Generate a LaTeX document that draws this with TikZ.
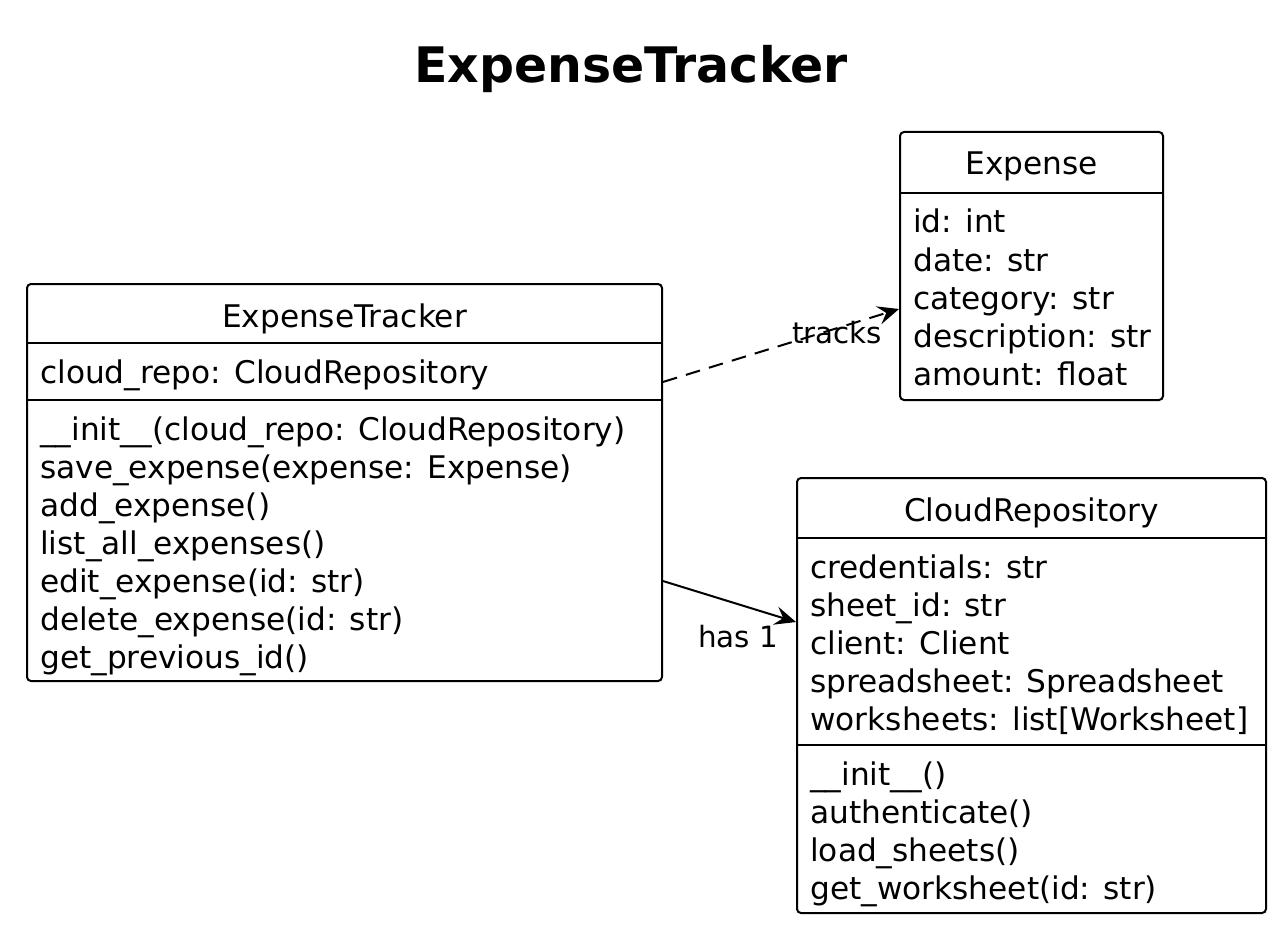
\documentclass[tikz,border=0pt]{standalone}
\usepackage{fontspec}
\setmainfont{DejaVu Sans}
\usetikzlibrary{positioning,calc,arrows.meta}

\tikzset{
  classbox/.style={draw, line width=1.5pt, rounded corners=3pt, inner sep=0pt},
  sepline/.style={line width=1.5pt},
  classname/.style={anchor=base, inner sep=0pt, font=\fontsize{23.4}{28}\selectfont},
  member/.style={anchor=base west, inner sep=0pt, font=\fontsize{23.4}{28}\selectfont},
  rel/.style={line width=1.5pt, -{Stealth[length=16pt,width=14pt,inset=6pt]}},
  rellabel/.style={anchor=base, inner sep=0pt, font=\fontsize{22}{26}\selectfont}
}

\begin{document}
\begin{tikzpicture}[x=0.75pt,y=-0.75pt]
    \useasboundingbox (0,0) rectangle (1280,927);

    \node [anchor=base, font=\fontsize{36.7}{40}\selectfont\bfseries] (title) at (631,83) {ExpenseTracker};

    % class boxes
    \node [classbox, minimum width=476.25pt, minimum height=297.75pt] (tracker) at (344.5,482.5) {};
    \node [classbox, minimum width=197.25pt, minimum height=201pt] (expense) at (1031.5,266) {};
    \node [classbox, minimum width=351.75pt, minimum height=326.25pt] (cloud) at (1031.5,695.5) {};

    \draw [sepline] (27,343) -- (662,343);
    \draw [sepline] (27,400) -- (662,400);
    \draw [sepline] (900,193) -- (1163,193);
    \draw [sepline] (797,538) -- (1266,538);
    \draw [sepline] (797,745) -- (1266,745);

    % ExpenseTracker
    \node [classname] (tracker-name) at (344.5,327) {ExpenseTracker};
    \node [member] (tracker-attr) at (40,383) {cloud\_repo: CloudRepository};
    \foreach \m [count=\i] in {\_\_init\_\_(cloud\_repo: CloudRepository),
        save\_expense(expense: Expense), add\_expense(), list\_all\_expenses(),
        edit\_expense(id: str), delete\_expense(id: str), get\_previous\_id()}
        \node [member] (tracker-m\i) at (40,{402+38*\i}) {\m};

    % Expense
    \node [classname] (expense-name) at (1031.5,175) {Expense};
    \foreach \a [count=\i] in {id: int, date: str, category: str,
        description: str, amount: float}
        \node [member] (expense-a\i) at (913,{195+38*\i}) {\a};

    % CloudRepository
    \node [classname] (cloud-name) at (1031.5,521) {CloudRepository};
    \foreach \a [count=\i] in {credentials: str, sheet\_id: str, client: Client,
        spreadsheet: Spreadsheet, worksheets: list[Worksheet]}
        \node [member] (cloud-a\i) at (810,{540+38*\i}) {\a};
    \foreach \m [count=\i] in {\_\_init\_\_(), authenticate(), load\_sheets(),
        get\_worksheet(id: str)}
        \node [member] (cloud-m\i) at (810,{747+38*\i}) {\m};

    % relations
    \draw [rel, dash pattern=on 11pt off 7pt] ([yshift=75.4pt]tracker.east) -- ([yshift=-32.25pt]expense.west);
    \node [rellabel] (tracks) at (837,343) {tracks};

    \draw [rel] ([yshift=-73.9pt]tracker.east) -- ([yshift=55.1pt]cloud.west);
    \node [rellabel] (has) at (738,647) {has 1};
\end{tikzpicture}
\end{document}
